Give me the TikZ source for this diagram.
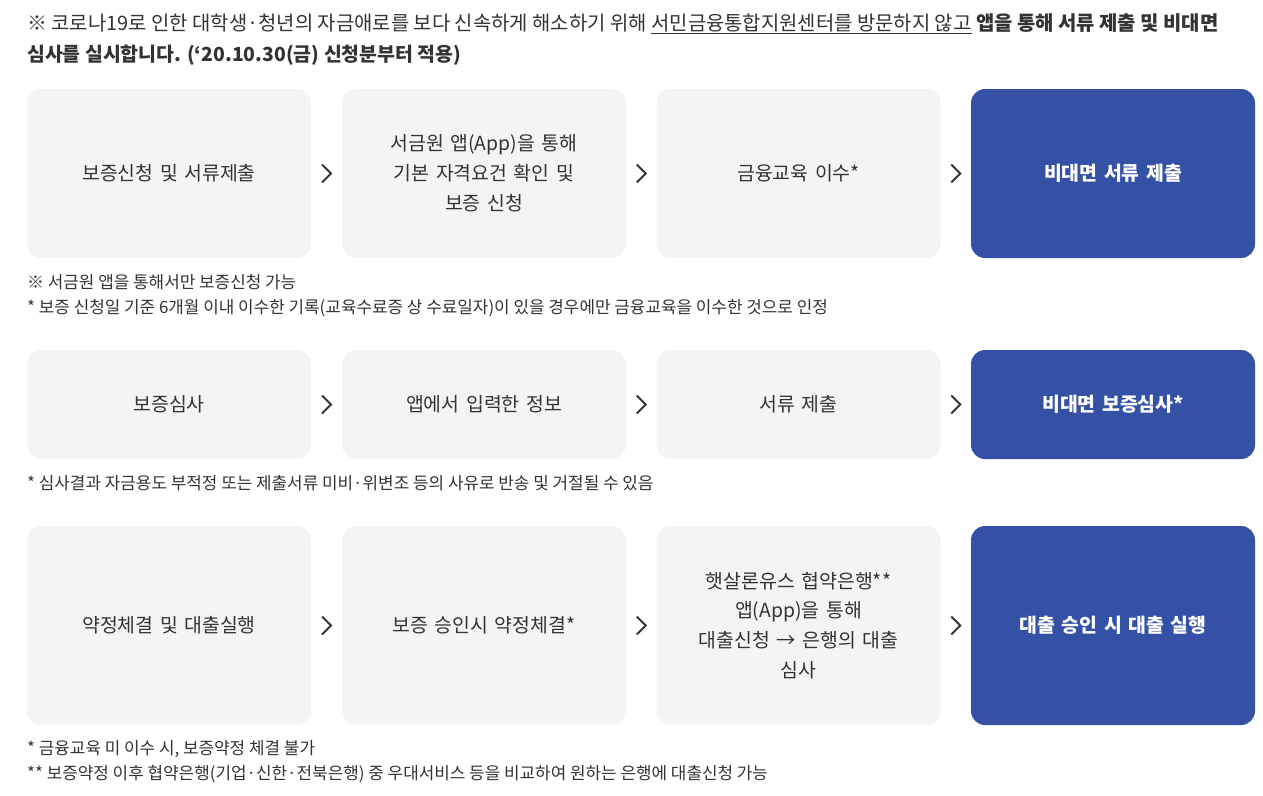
\documentclass[tikz,border=0pt]{standalone}
\usepackage{fontspec}
\setmainfont{Noto Sans CJK KR}
\usetikzlibrary{positioning,calc}
\definecolor{boxgray}{RGB}{244,244,244}
\definecolor{napblue}{RGB}{52,81,166}
\definecolor{txtgray}{RGB}{51,51,51}

\begin{document}
\begin{tikzpicture}[x=1pt, y=1pt,
    flowbox/.style={rectangle, rounded corners=14pt, fill=boxgray, minimum width=284pt, text width=270pt, align=center, text=txtgray, font=\fontsize{19.4}{29.8}\selectfont},
    endbox/.style={flowbox, fill=napblue, text=white, font=\fontsize{19.4}{29.8}\selectfont\bfseries},
    note/.style={anchor=base west, inner sep=0pt, text=txtgray, font=\fontsize{16.9}{18}\selectfont},
    head/.style={anchor=base west, inner sep=0pt, text=txtgray, font=\fontsize{19.9}{24}\selectfont},
    chevron/.style={draw=txtgray, line width=1.8pt}
]
\useasboundingbox (0,0) rectangle (1263,-795);

% Heading, two lines
\node[head] (head1) at (27,-30) {※ 코로나19로 인한 대학생·청년의 자금애로를 보다 신속하게 해소하기 위해 \underline{서민금융통합지원센터를 방문하지 않고} \textbf{앱을 통해 서류 제출 및 비대면}};
\node[head, font=\fontsize{19.4}{24}\selectfont\bfseries] (head2) at (27,-61) {심사를 실시합니다. (‘20.10.30(금) 신청분부터 적용)};

% Row 1: guarantee application
\foreach \n/\x/\txt in {1/169/{보증신청 및 서류제출}, 2/484/{서금원 앱(App)을 통해\\기본 자격요건 확인 및\\보증 신청}, 3/798.5/{금융교육 이수*}} {
    \node[flowbox, minimum height=169pt] (a\n) at (\x,-173.5) {\txt};
}
\node[endbox, minimum height=169pt] (a4) at (1113,-173.5) {비대면 서류 제출};
\foreach \i/\j in {1/2,2/3,3/4} {
    \draw[chevron] ($(a\i.east)!0.5!(a\j.west)$) +(-4.5,9) -- +(4.5,0) -- +(-4.5,-9);
}
\node[note] (note1a) at (27,-288) {※ 서금원 앱을 통해서만 보증신청 가능};
\node[note] (note1b) at (27,-313) {* 보증 신청일 기준 6개월 이내 이수한 기록(교육수료증 상 수료일자)이 있을 경우에만 금융교육을 이수한 것으로 인정};

% Row 2: guarantee review
\foreach \n/\x/\txt in {1/169/{보증심사}, 2/484/{앱에서 입력한 정보}, 3/798.5/{서류 제출}} {
    \node[flowbox, minimum height=109pt] (b\n) at (\x,-404.5) {\txt};
}
\node[endbox, minimum height=109pt] (b4) at (1113,-404.5) {비대면 보증심사*};
\foreach \i/\j in {1/2,2/3,3/4} {
    \draw[chevron] ($(b\i.east)!0.5!(b\j.west)$) +(-4.5,9) -- +(4.5,0) -- +(-4.5,-9);
}
\node[note] (note2) at (27,-489) {* 심사결과 자금용도 부적정 또는 제출서류 미비·위변조 등의 사유로 반송 및 거절될 수 있음};

% Row 3: agreement and loan
\foreach \n/\x/\txt in {1/169/{약정체결 및 대출실행}, 2/484/{보증 승인시 약정체결*}, 3/798.5/{햇살론유스 협약은행**\\앱(App)을 통해\\대출신청 → 은행의 대출\\심사}} {
    \node[flowbox, minimum height=199pt] (c\n) at (\x,-625.5) {\txt};
}
\node[endbox, minimum height=199pt] (c4) at (1113,-625.5) {대출 승인 시 대출 실행};
\foreach \i/\j in {1/2,2/3,3/4} {
    \draw[chevron] ($(c\i.east)!0.5!(c\j.west)$) +(-4.5,9) -- +(4.5,0) -- +(-4.5,-9);
}
\node[note] (note3a) at (27,-754) {* 금융교육 미 이수 시, 보증약정 체결 불가};
\node[note] (note3b) at (27,-779) {** 보증약정 이후 협약은행(기업·신한·전북은행) 중 우대서비스 등을 비교하여 원하는 은행에 대출신청 가능};

\end{tikzpicture}
\end{document}
